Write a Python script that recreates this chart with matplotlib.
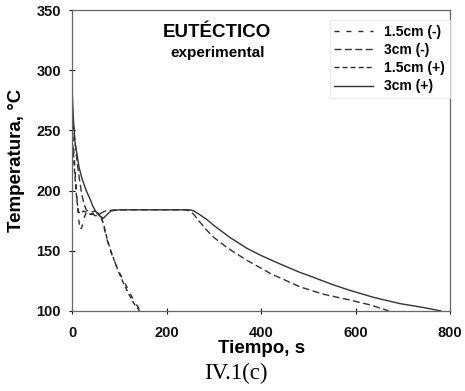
import matplotlib
matplotlib.use("Agg")
import matplotlib.pyplot as plt

plt.rcParams['font.family'] = ['Liberation Sans', 'DejaVu Sans']

t_15m = [0, 3, 6, 10, 14, 17, 21, 26, 32, 40, 48, 55, 60, 66, 72, 80, 91, 100, 112, 122, 133, 145]
T_15m = [255, 238, 218, 195, 176, 167, 170, 178, 183, 182, 183, 182, 180, 172, 162, 151, 140, 132, 123, 115, 107, 100]

t_3m = [0, 5, 10, 15, 20, 25, 30, 40, 50, 60, 70, 90, 240, 250, 258, 270, 285, 300, 330, 370, 420, 482, 530, 588, 630, 670]
T_3m = [265, 245, 226, 211, 198, 189, 184, 181, 179, 181, 183, 184, 184, 183, 180, 174, 167, 161, 152, 142, 131, 120, 114, 109, 105, 100]

t_15p = [0, 3, 6, 10, 14, 19, 24, 30, 40, 50, 56, 62, 68, 74, 82, 91, 100, 110, 120, 131, 143]
T_15p = [245, 230, 212, 192, 182, 181, 183, 182, 180, 182, 181, 178, 170, 160, 150, 140, 131, 122, 114, 106, 100]

t_3p = [0, 3, 6, 10, 15, 21, 30, 38, 44, 51, 58, 66, 74, 82, 100, 250, 258, 270, 285, 300, 334, 370, 400, 440, 482, 510, 550, 588, 640, 694, 740, 780]
T_3p = [285, 258, 241, 231, 219, 210, 200, 193, 187, 182, 179, 177, 180, 183, 184, 184, 183, 180, 176, 171, 161, 152, 146, 139, 132, 128, 122, 117, 111, 106, 103, 100]

labels = ['1.5cm (-)', '3cm (-)', '1.5cm (+)', '3cm (+)']

fig = plt.figure(figsize=(4.65, 3.91), dpi=100)
ax = fig.add_axes([0.155, 0.205, 0.813, 0.769])
ax.plot(t_15m, T_15m, color='#2a2a2a', lw=1.0, ls=(0, (3.6, 5)), label=labels[0])
ax.plot(t_3m, T_3m, color='#333333', lw=1.0, ls=(0, (5, 2.5)), label=labels[1])
ax.plot(t_15p, T_15p, color='#2a2a2a', lw=1.0, ls=(0, (3.6, 2.2)), label=labels[2])
ax.plot(t_3p, T_3p, color='#333333', lw=1.0, ls='-', label=labels[3])

ax.set_xlim(0, 800)
ax.set_ylim(100, 350)
ax.set_xticks([0, 200, 400, 600, 800])
ax.set_yticks([100, 150, 200, 250, 300, 350])
ax.tick_params(direction='inout', length=4, width=0.8, labelsize=10.5, colors='#111111')
ax.tick_params(axis='x', pad=9)
ax.tick_params(axis='y', pad=6)
for lab in ax.get_xticklabels() + ax.get_yticklabels():
    lab.set_fontweight('bold')
for s in ax.spines.values():
    s.set_color('#666666')
    s.set_linewidth(0.9)

ax.set_xlabel('Tiempo, s', fontsize=13.5, fontweight='bold')
ax.set_ylabel('Temperatura, °C', fontsize=13.5, fontweight='bold')
ax.xaxis.set_label_coords(0.5, -0.096)
ax.yaxis.set_label_coords(-0.124, 0.5)

ax.text(0.384, 0.927, 'EUTÉCTICO', transform=ax.transAxes, ha='center', va='center',
        fontsize=13.5, fontweight='bold')
ax.text(0.384, 0.857, 'experimental', transform=ax.transAxes, ha='center', va='center',
        fontsize=11, fontweight='bold')

leg = ax.legend(loc='upper right', bbox_to_anchor=(1.0, 0.967), fontsize=10, frameon=True,
                fancybox=False, handlelength=2.8, handletextpad=0.8, borderpad=0.35,
                labelspacing=0.3, borderaxespad=0.0)
leg.get_frame().set_edgecolor('#e0e0e0')
leg.get_frame().set_linewidth(0.6)
for txt in leg.get_texts():
    txt.set_fontweight('bold')

fig.text(0.508, 0.044, 'IV.1(c)', ha='center', va='center', fontsize=16.5,
         family=['Liberation Serif', 'DejaVu Serif'])

fig.savefig('out.png', dpi=100)
